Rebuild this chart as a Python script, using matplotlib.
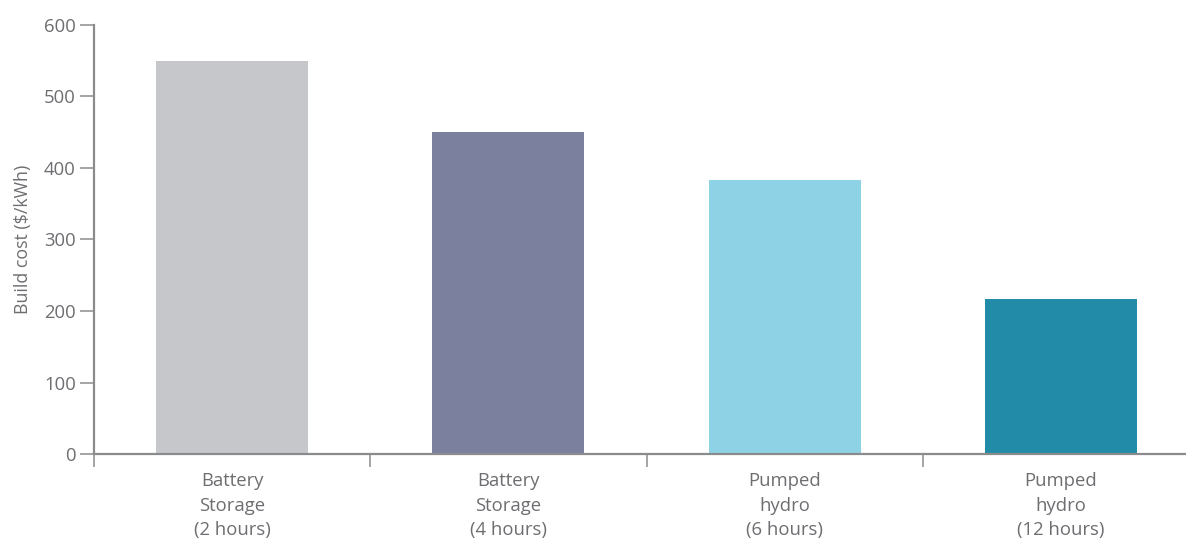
import matplotlib
matplotlib.use("Agg")
import matplotlib.pyplot as plt

# Storage technologies and their build cost
categories = ["Battery\nStorage\n(2 hours)", "Battery\nStorage\n(4 hours)",
              "Pumped\nhydro\n(6 hours)", "Pumped\nhydro\n(12 hours)"]
build_cost = [550, 450, 383, 217]
bar_colors = ["#C6C7CB", "#7B809F", "#8DD2E5", "#218BA8"]
y_ticks = [0, 100, 200, 300, 400, 500, 600]

text_gray = "#6D6E71"
axis_gray = "#8A8B8D"

plt.rcParams["font.family"] = ["Open Sans", "DejaVu Sans"]

fig = plt.figure(figsize=(11.86, 5.41), dpi=100)
ax = fig.add_axes([94 / 1186, 87 / 541, 1105 / 1186, 429 / 541])

x = range(len(categories))
ax.bar(x, build_cost, width=0.55, color=bar_colors, zorder=2)

ax.set_xlim(-0.5, len(categories) - 0.5)
ax.set_ylim(0, 600)
ax.set_yticks(y_ticks)
ax.set_yticklabels([str(v) for v in y_ticks])

# Category labels centred under bars, ticks at category boundaries
ax.set_xticks(list(x))
ax.set_xticklabels(categories, linespacing=1.48)
ax.tick_params(axis="x", which="major", length=0, pad=13,
               labelsize=13.3, labelcolor=text_gray)
ax.set_xticks([i + 0.5 for i in range(-1, len(categories))], minor=True)
ax.tick_params(axis="x", which="minor", length=9, width=1.1,
               color=axis_gray, direction="out")
ax.tick_params(axis="y", length=10, width=1.1, color=axis_gray,
               labelsize=13.3, labelcolor=text_gray, pad=3)

for side in ("top", "right"):
    ax.spines[side].set_visible(False)
for side in ("left", "bottom"):
    ax.spines[side].set_color(axis_gray)
    ax.spines[side].set_linewidth(1.6)

ax.set_ylabel("Build cost ($/kWh)", fontsize=12.8, color=text_gray, labelpad=9)

fig.savefig("out.png", dpi=100, facecolor="white")
